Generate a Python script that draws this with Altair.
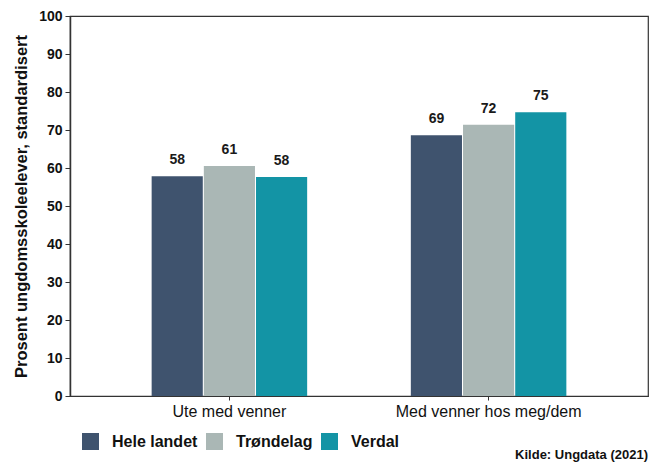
import altair as alt
import pandas as pd

categories = ["Ute med venner", "Med venner hos meg/dem"]
series = ["Hele landet", "Trøndelag", "Verdal"]
values = {
    "Hele landet": [57.8, 68.6],
    "Trøndelag": [60.5, 71.4],
    "Verdal": [57.6, 74.7],
}
labels = {
    "Hele landet": ["58", "69"],
    "Trøndelag": ["61", "72"],
    "Verdal": ["58", "75"],
}
colors = ["#3f536e", "#aab7b5", "#1394a5"]
y_ticks = [0, 10, 20, 30, 40, 50, 60, 70, 80, 90, 100]
source_text = "Kilde: Ungdata (2021)"

rows = []
for s in series:
    for i, c in enumerate(categories):
        rows.append({"Kategori": c, "Serie": s, "Verdi": values[s][i], "Etikett": labels[s][i]})
df = pd.DataFrame(rows)

FONT = "Liberation Sans"

x_enc = alt.X(
    "Kategori:N",
    sort=categories,
    scale=alt.Scale(paddingInner=0.4, paddingOuter=0.315),
    axis=alt.Axis(
        title=None, labelAngle=0, labelFontSize=16, labelColor="#111",
        labelFont=FONT, tickSize=4, tickColor="#333", domain=True, domainColor="#333",
        labelPadding=3, labelLimit=0,
    ),
)
xoff = alt.XOffset("Serie:N", sort=series, scale=alt.Scale(paddingInner=0.02))
y_enc = alt.Y(
    "Verdi:Q",
    scale=alt.Scale(domain=[0, 100], nice=False),
    axis=alt.Axis(
        title="Prosent ungdomsskoleelever, standardisert",
        titleFontSize=16.5, titleFont=FONT, titleFontWeight="bold", titleColor="#111",
        titlePadding=9,
        values=y_ticks, tickCount=11, labelOverlap=False,
        labelFontSize=14, labelFontWeight="bold", labelFont=FONT,
        labelColor="#111", tickSize=5, tickColor="#333", labelPadding=3,
        grid=False, domainColor="#333", domainWidth=1.5,
    ),
)

bars = alt.Chart(df).mark_bar().encode(
    x=x_enc,
    xOffset=xoff,
    y=y_enc,
    color=alt.Color(
        "Serie:N",
        sort=series,
        scale=alt.Scale(domain=series, range=colors),
        legend=alt.Legend(
            title=None, orient="none", legendX=12, legendY=417, direction="horizontal",
            symbolType="square", symbolSize=289, symbolStrokeWidth=0, symbolOpacity=1,
            labelFontSize=16, labelFontWeight="bold", labelFont=FONT, labelColor="#111",
            columnPadding=8, labelOffset=13,
        ),
    ),
)

text = alt.Chart(df).mark_text(
    dy=-9, fontSize=14, fontWeight="bold", font=FONT, color="#1a1a1a", baseline="bottom"
).encode(
    x=x_enc,
    xOffset=xoff,
    y=y_enc,
    text="Etikett:N",
)

src = alt.Chart(pd.DataFrame({"t": [source_text]})).mark_text(
    align="right", baseline="middle", fontSize=13, fontWeight="bold", font=FONT, color="#111"
).encode(
    x=alt.value(578), y=alt.value(439), text="t:N"
)

chart = (
    alt.layer(bars, text, src)
    .properties(
        width=578, height=380,
        padding={"left": 62, "top": 8, "right": 2, "bottom": 66},
        autosize=alt.AutoSizeParams(type="none"),
        background="white",
    )
    .configure_view(stroke="#333", strokeWidth=1.2)
)

chart.save("out.html", embed_options={"renderer": "svg", "actions": False})
